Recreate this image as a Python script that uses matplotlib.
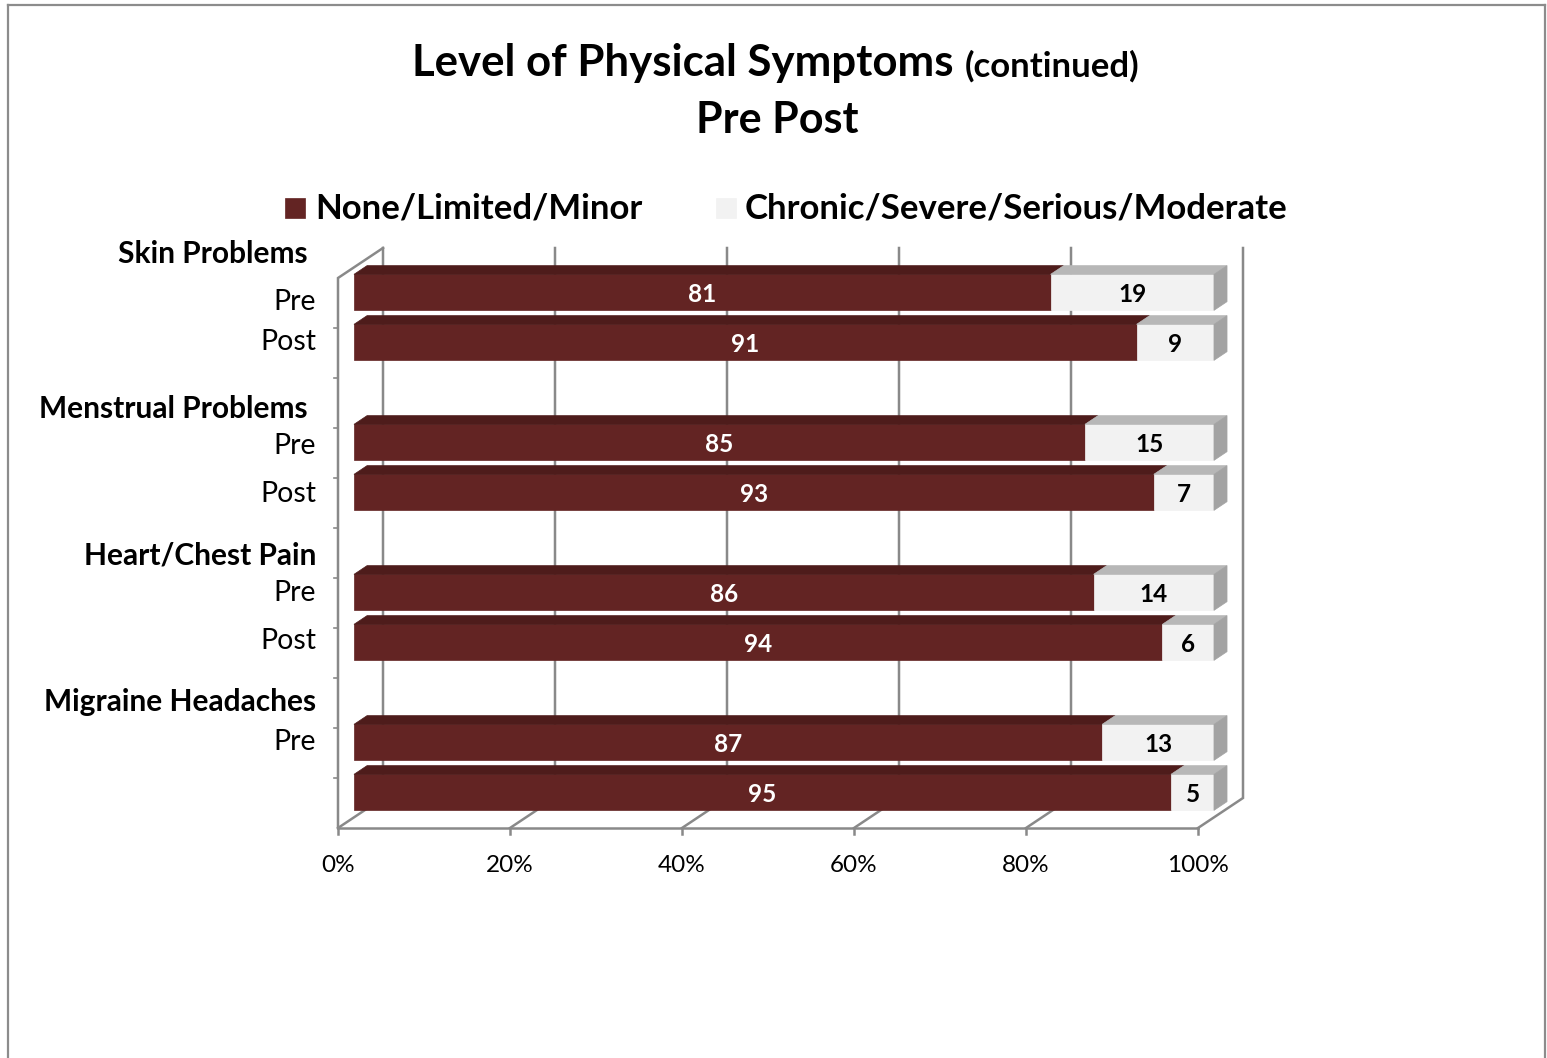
import matplotlib
matplotlib.use("Agg")
import matplotlib.pyplot as plt
from matplotlib.patches import Polygon
from matplotlib.lines import Line2D

plt.rcParams['font.family'] = ['Lato', 'DejaVu Sans']

# Data: percent of respondents per level, for each row (top to bottom)
groups = ["Skin Problems", "Menstrual Problems", "Heart/Chest Pain", "Migraine Headaches"]
none_limited = [81, 91, 85, 93, 86, 94, 87, 95]
chronic_severe = [19, 9, 15, 7, 14, 6, 13, 5]
series_names = ["None/Limited/Minor", "Chronic/Severe/Serious/Moderate"]
ticks = [0, 20, 40, 60, 80, 100]

# Category slots (an empty slot separates each Pre/Post pair)
slots = [0, 1, 3, 4, 6, 7, 9, 10]

W, H = 1547, 1058
X0, XS = 338, 8.6      # pixel of 0 %, pixels per percent (front plane)
Y0, YS = 303, 50       # pixel of slot 0, pixels per slot (front plane)
DX, DY = 45 / XS, 30 / YS   # full depth shift in data units
DF, DB = 0.355, 0.645        # bar front and back depth
HALF = 0.36                  # half bar height

MAROON, MAROON_TOP = "#632423", "#4e1c1b"
LIGHT, LIGHT_TOP, LIGHT_SIDE = "#f2f2f2", "#b7b7b7", "#a3a3a3"
GRID = "#898989"

fig = plt.figure(figsize=(W / 100, H / 100), dpi=100)
ax = fig.add_axes([0, 0, 1, 1])
ax.set_xlim(-X0 / XS, (W - X0) / XS)
ax.set_ylim((H - Y0) / YS, -Y0 / YS)
ax.axis("off")


def P(p, s, d):
    """Project percent p, slot s, depth d (0 front .. 1 back) to data coords."""
    return (p + d * DX, s - d * DY)


def px(x, y):
    return ((x - X0) / XS, (y - Y0) / YS)


# outer frame
fig.add_artist(Line2D([8 / W, 8 / W], [0, 1 - 5 / H], color="#8c8c8c", lw=1.6))
fig.add_artist(Line2D([8 / W, 1545 / W], [1 - 5 / H, 1 - 5 / H], color="#8c8c8c", lw=1.6))
fig.add_artist(Line2D([1545 / W, 1545 / W], [0, 1 - 5 / H], color="#8c8c8c", lw=1.6))

top, bot = -0.5, 10.5
lw_grid = 1.8
# gridlines on floor and back wall
for t in ticks:
    a, b, c = P(t, bot, 0), P(t, bot, 1), P(t, top, 1)
    ax.plot([a[0], b[0], c[0]], [a[1], b[1], c[1]], color=GRID, lw=lw_grid,
            solid_joinstyle="miter", zorder=1)
    ax.plot([t, t], [bot, bot + 0.12], color=GRID, lw=lw_grid, zorder=1)
    ax.text(t, px(0, 866)[1], f"{t}%", ha="center", va="center", fontsize=17.5)

# front floor edge and left wall
a, b = P(0, bot, 0), P(100, bot, 0)
ax.plot([a[0], b[0]], [a[1], b[1]], color=GRID, lw=lw_grid, zorder=1)
pts = [P(0, bot, 0), P(0, top, 0), P(0, top, 1)]
ax.plot([q[0] for q in pts], [q[1] for q in pts], color=GRID, lw=lw_grid,
        solid_joinstyle="miter", zorder=1)
for k in range(10):
    ax.plot([-0.5, 0], [k + 0.5, k + 0.5], color=GRID, lw=1.2, zorder=1)


def face(points, color, z=3):
    ax.add_patch(Polygon(points, closed=True, facecolor=color, edgecolor=color,
                         lw=0.5, zorder=z))


for s, v1, v2 in zip(slots, none_limited, chronic_severe):
    yt, yb = s - HALF, s + HALF
    # maroon segment
    face([P(0, yt, DF), P(v1, yt, DF), P(v1, yb, DF), P(0, yb, DF)], MAROON)
    face([P(0, yt, DF), P(v1, yt, DF), P(v1, yt, DB), P(0, yt, DB)], MAROON_TOP)
    # light segment
    end = v1 + v2
    face([P(v1, yt, DF), P(end, yt, DF), P(end, yb, DF), P(v1, yb, DF)], LIGHT)
    face([P(v1, yt, DF), P(end, yt, DF), P(end, yt, DB), P(v1, yt, DB)], LIGHT_TOP)
    face([P(end, yt, DF), P(end, yb, DF), P(end, yb, DB), P(end, yt, DB)], LIGHT_SIDE)
    # value labels
    cx, cy = P(v1 / 2, s + 0.04, DF)
    ax.text(cx, cy, str(v1), ha="center", va="center", color="white",
            fontsize=17.5, fontweight="bold", zorder=5)
    cx, cy = P(v1 + v2 / 2, s + 0.04, DF)
    ax.text(cx, cy, str(v2), ha="center", va="center", color="black",
            fontsize=17.5, fontweight="bold", zorder=5)

# category labels
group_y = [254, 409, 556, 702]
group_x = [308, 308, 316, 316]
for g, gx, gy in zip(groups, group_x, group_y):
    ax.text(*px(gx, gy), g, ha="right", va="center", fontsize=21.5, fontweight="bold")
sub_labels = [("Pre", 302), ("Post", 342), ("Pre", 446), ("Post", 494),
              ("Pre", 593), ("Post", 641), ("Pre", 742)]
for lab, ly in sub_labels:
    ax.text(*px(316, ly), lab, ha="right", va="center", fontsize=20.5)

# legend
for (x_sq, x_txt), name, col in zip([(285, 315), (716, 745)], series_names, [MAROON, LIGHT]):
    x1, y1 = px(x_sq, 198)
    x2, y2 = px(x_sq + 20, 218)
    face([(x1, y1), (x2, y1), (x2, y2), (x1, y2)], col)
    ax.text(*px(x_txt, 208), name, ha="left", va="center", fontsize=25, fontweight="bold")

# title
ax.text(*px(953, 63), "Level of Physical Symptoms", ha="right", va="center",
        fontsize=31.5, fontweight="bold")
ax.text(*px(965, 66), "(continued)", ha="left", va="center",
        fontsize=25, fontweight="bold")
ax.text(*px(777, 120), "Pre Post", ha="center", va="center",
        fontsize=31, fontweight="bold")

fig.savefig("out.png", dpi=100)
